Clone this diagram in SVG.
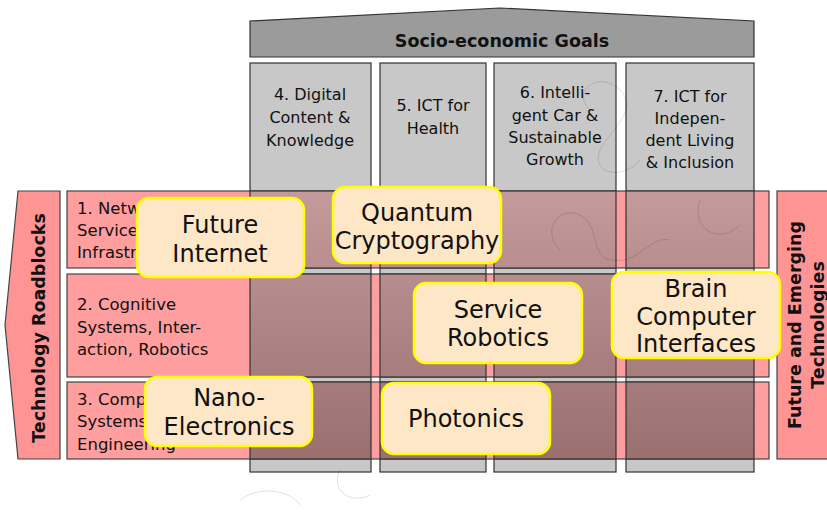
<svg xmlns="http://www.w3.org/2000/svg" width="827" height="512" viewBox="0 0 827 512">
<defs>
<linearGradient id="cellg" gradientUnits="userSpaceOnUse" x1="0" y1="191" x2="0" y2="459">
<stop offset="0" stop-color="#c49a9a"/>
<stop offset="1" stop-color="#9a6f6f"/>
</linearGradient>
<style>
.col{fill:#c8c8c8;stroke:#333;stroke-width:1.2}
.row{fill:#ff9e9e;stroke:#444;stroke-width:1.2}
.cell{fill:url(#cellg);stroke:#333;stroke-width:1.2}
.t{font-family:"DejaVu Sans",Verdana,sans-serif;fill:#111}
.ct{font-size:16px;text-anchor:middle}
.rt{font-size:16.5px}
.bt{font-size:24px;text-anchor:middle}
.hb{font-weight:bold;font-size:17.5px;text-anchor:middle}
.box{fill:#fde7c7;stroke:#ffff00;stroke-width:2.5}
.sq{fill:none;stroke:#000;stroke-opacity:0.12;stroke-width:1}
</style>
</defs>
<g id="header">
<path d="M250,57 L250,21 L500,8 L754,21 L754,57 Z" fill="#9b9b9b" stroke="#333" stroke-width="1.2"/>
<text class="t hb" x="502" y="47">Socio-economic Goals</text>
</g>
<g id="columns">
<rect class="col" x="250" y="63" width="121" height="409"/>
<rect class="col" x="380" y="63" width="106" height="409"/>
<rect class="col" x="494" y="63" width="122" height="409"/>
<rect class="col" x="626" y="63" width="128" height="409"/>
</g>
<g id="rows">
<rect class="row" x="67" y="191" width="702" height="77"/>
<rect class="row" x="67" y="274" width="702" height="103"/>
<rect class="row" x="67" y="382" width="702" height="77"/>
</g>
<g id="cells">
<rect class="cell" x="250" y="191" width="121" height="77"/>
<rect class="cell" x="380" y="191" width="106" height="77"/>
<rect class="cell" x="494" y="191" width="122" height="77"/>
<rect class="cell" x="626" y="191" width="128" height="77"/>
<rect class="cell" x="250" y="274" width="121" height="103"/>
<rect class="cell" x="380" y="274" width="106" height="103"/>
<rect class="cell" x="494" y="274" width="122" height="103"/>
<rect class="cell" x="626" y="274" width="128" height="103"/>
<rect class="cell" x="250" y="382" width="121" height="77"/>
<rect class="cell" x="380" y="382" width="106" height="77"/>
<rect class="cell" x="494" y="382" width="122" height="77"/>
<rect class="cell" x="626" y="382" width="128" height="77"/>
</g>
<g id="col4-label">
<text class="t ct"><tspan x="310" y="100">4. Digital</tspan><tspan x="310" y="123">Content &amp;</tspan><tspan x="310" y="146">Knowledge</tspan></text>
</g>
<g id="col5-label">
<text class="t ct"><tspan x="433" y="111">5. ICT for</tspan><tspan x="433" y="134">Health</tspan></text>
</g>
<g id="col6-label">
<text class="t ct"><tspan x="555" y="98">6. Intelli-</tspan><tspan x="555" y="121">gent Car &amp;</tspan><tspan x="555" y="143">Sustainable</tspan><tspan x="555" y="165">Growth</tspan></text>
</g>
<g id="col7-label">
<text class="t ct"><tspan x="690" y="102">7. ICT for</tspan><tspan x="690" y="124">Indepen-</tspan><tspan x="690" y="146">dent Living</tspan><tspan x="690" y="168">&amp; Inclusion</tspan></text>
</g>
<g id="row1-label">
<text class="t rt"><tspan x="77" y="214">1. Netw</tspan><tspan x="77" y="236">Service</tspan><tspan x="77" y="258">Infrastr</tspan></text>
</g>
<g id="row2-label">
<text class="t rt"><tspan x="77" y="310">2. Cognitive</tspan><tspan x="77" y="333">Systems, Inter-</tspan><tspan x="77" y="355">action, Robotics</tspan></text>
</g>
<g id="row3-label">
<text class="t rt"><tspan x="77" y="405">3. Comp</tspan><tspan x="77" y="427">Systems</tspan><tspan x="77" y="450">Engineering</tspan></text>
</g>
<g id="roadblocks">
<path d="M18,191 L60,191 L60,459 L18,459 L5,325 Z" fill="#ff9494" stroke="#444" stroke-width="1.2"/>
<text class="t hb" transform="translate(45,328) rotate(-90)" x="0" y="0">Technology Roadblocks</text>
</g>
<g id="fet">
<rect x="777" y="191" width="60" height="268" fill="#ff9494" stroke="#444" stroke-width="1.2"/>
<text class="t hb" transform="translate(801,325) rotate(-90)"><tspan x="0" y="0">Future and Emerging</tspan><tspan x="0" y="23">Technologies</tspan></text>
</g>
<g id="watermark">
<path class="sq" d="M590,110 C570,90 600,70 620,90 C640,110 610,130 600,150 C590,175 625,180 640,160"/>
<path class="sq" d="M560,250 C540,230 560,205 580,215 C600,225 590,255 610,260 C640,265 650,235 670,240"/>
<path class="sq" d="M530,300 C515,320 520,350 545,345 M700,200 C690,230 720,245 740,225"/>
<path class="sq" d="M240,500 C260,485 290,490 300,505 M340,470 C330,490 350,505 370,495"/>
</g>
<g id="future-internet">
<rect class="box" x="137" y="198" width="167" height="79" rx="12"/>
<text class="t bt"><tspan x="220" y="233">Future</tspan><tspan x="220" y="262">Internet</tspan></text>
</g>
<g id="quantum-cryptography">
<rect class="box" x="333" y="187" width="168" height="76" rx="12"/>
<text class="t bt"><tspan x="417" y="221">Quantum</tspan><tspan x="417" y="249">Cryptography</tspan></text>
</g>
<g id="service-robotics">
<rect class="box" x="414" y="283" width="168" height="80" rx="12"/>
<text class="t bt"><tspan x="498" y="318">Service</tspan><tspan x="498" y="346">Robotics</tspan></text>
</g>
<g id="brain-computer-interfaces">
<rect class="box" x="612" y="272" width="168" height="86" rx="12"/>
<text class="t bt"><tspan x="696" y="297">Brain</tspan><tspan x="696" y="325">Computer</tspan><tspan x="696" y="352">Interfaces</tspan></text>
</g>
<g id="nano-electronics">
<rect class="box" x="145" y="377" width="167" height="69" rx="12"/>
<text class="t bt"><tspan x="229" y="406">Nano-</tspan><tspan x="229" y="435">Electronics</tspan></text>
</g>
<g id="photonics">
<rect class="box" x="382" y="383" width="168" height="71" rx="12"/>
<text class="t bt"><tspan x="466" y="427">Photonics</tspan></text>
</g>
</svg>
